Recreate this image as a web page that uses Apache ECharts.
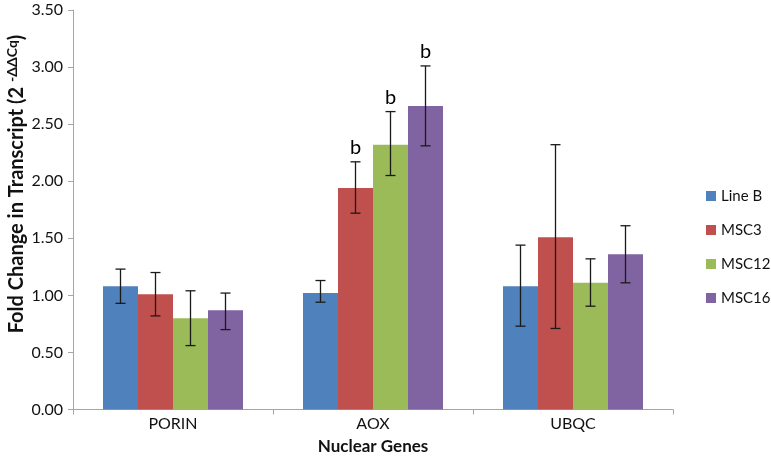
<!DOCTYPE html>
<html><head><meta charset="utf-8">
<script src="https://cdn.jsdelivr.net/npm/echarts@6/dist/echarts.min.js"></script>
<style>html,body{margin:0;padding:0;background:#fff}#c{width:771px;height:472px}</style>
</head><body><div id="c"></div>
<script>
const categories = ['PORIN', 'AOX', 'UBQC'];
const seriesNames = ['Line B', 'MSC3', 'MSC12', 'MSC16'];
const lineB = [1.08, 1.02, 1.08];
const msc3 = [1.01, 1.94, 1.51];
const msc12 = [0.80, 2.32, 1.11];
const msc16 = [0.87, 2.66, 1.36];
const lineBErr = [[0.93, 1.23], [0.94, 1.13], [0.73, 1.44]];
const msc3Err = [[0.82, 1.20], [1.72, 2.17], [0.71, 2.32]];
const msc12Err = [[0.56, 1.04], [2.05, 2.61], [0.905, 1.32]];
const msc16Err = [[0.70, 1.02], [2.31, 3.01], [1.11, 1.61]];
const lineBSig = ['', '', ''];
const msc3Sig = ['', 'b', ''];
const msc12Sig = ['', 'b', ''];
const msc16Sig = ['', 'b', ''];
const yTicks = [0, 0.5, 1, 1.5, 2, 2.5, 3, 3.5];
const yTitle = 'Fold Change in Transcript (2 ';
const yTitleSup = '-ΔΔCq';
const xTitle = 'Nuclear Genes';

const colors = ['#4F81BD', '#C0504D', '#9BBB59', '#8064A2'];
const values = [lineB, msc3, msc12, msc16];
const errs = [lineBErr, msc3Err, msc12Err, msc16Err];
const sigs = [lineBSig, msc3Sig, msc12Sig, msc16Sig];
const FONT = 'Lato';
const GAP = 0.30;

const chart = echarts.init(document.getElementById('c'));
const series = [];
seriesNames.forEach((name, i) => {
  series.push({
    name, type: 'bar', data: values[i], barGap: '0%', barCategoryGap: (GAP*100)+'%',
    itemStyle: { color: colors[i] }
  });
});
seriesNames.forEach((name, i) => {
  series.push({
    type: 'custom', name: name + ' err', silent: true, z: 5,
    data: errs[i].map((e, k) => [k, e[0], e[1], sigs[i][k]]),
    encode: { x: 0, y: [1, 2] },
    renderItem: (params, api) => {
      const k = api.value(0);
      const catW = api.size([1, 0])[0];
      const bw = catW * (1 - GAP) / 4;
      const lo = api.coord([k, api.value(1)]);
      const hi = api.coord([k, api.value(2)]);
      const x = lo[0] + (-1.5 + i) * bw;
      const cap = 5;
      const st = { stroke: '#1a1a1a', lineWidth: 1.3 };
      const children = [
        { type: 'line', shape: { x1: x, y1: lo[1], x2: x, y2: hi[1] }, style: st },
        { type: 'line', shape: { x1: x - cap, y1: lo[1], x2: x + cap, y2: lo[1] }, style: st },
        { type: 'line', shape: { x1: x - cap, y1: hi[1], x2: x + cap, y2: hi[1] }, style: st }
      ];
      const s = api.value(3);
      if (s) {
        children.push({ type: 'text', style: { x: x, y: hi[1] - 4, text: s, textAlign: 'center', textVerticalAlign: 'bottom', fill: '#000', font: '20px ' + FONT } });
      }
      return { type: 'group', children };
    }
  });
});

chart.setOption({
  animation: false,
  textStyle: { fontFamily: FONT },
  grid: { left: 73, right: 98, top: 10, bottom: 62.5 },
  legend: {
    data: seriesNames, orient: 'vertical', left: 701, top: 183, itemGap: 18,
    itemWidth: 10, itemHeight: 10, icon: 'rect',
    textStyle: { fontFamily: FONT, fontSize: 15, lineHeight: 16, color: '#111' }
  },
  graphic: [{
    type: 'text', x: 17, y: 184, rotation: Math.PI / 2,
    style: {
      text: '{a|' + yTitle + '}{sup|' + yTitleSup + '}{a|)}',
      textAlign: 'center', textVerticalAlign: 'middle',
      rich: {
        a: { fontFamily: FONT, fontWeight: 'bold', fontSize: 20, fill: '#111' },
        sup: { fontFamily: FONT, fontWeight: 'bold', fontSize: 14, fill: '#111', padding: [0, 0, 10, 0] }
      }
    }
  }],
  xAxis: {
    type: 'category', data: categories,
    name: xTitle, nameLocation: 'middle', nameGap: 29,
    nameTextStyle: { fontFamily: FONT, fontWeight: 'bold', fontSize: 17, color: '#111' },
    axisLine: { lineStyle: { color: '#a6a6a6' } },
    axisTick: { show: true, length: 5, lineStyle: { color: '#a6a6a6' } },
    axisLabel: { fontFamily: FONT, fontSize: 16, color: '#111', margin: 6 }
  },
  yAxis: {
    type: 'value', min: yTicks[0], max: yTicks[yTicks.length - 1], interval: 0.5,
    splitLine: { show: false },
    axisLine: { show: true, lineStyle: { color: '#a6a6a6' } },
    axisTick: { show: true, length: 5, lineStyle: { color: '#a6a6a6' } },
    axisLabel: { fontFamily: FONT, fontSize: 16, color: '#111', margin: 10, formatter: v => v.toFixed(2) }
  },
  series
});
</script></body></html>
